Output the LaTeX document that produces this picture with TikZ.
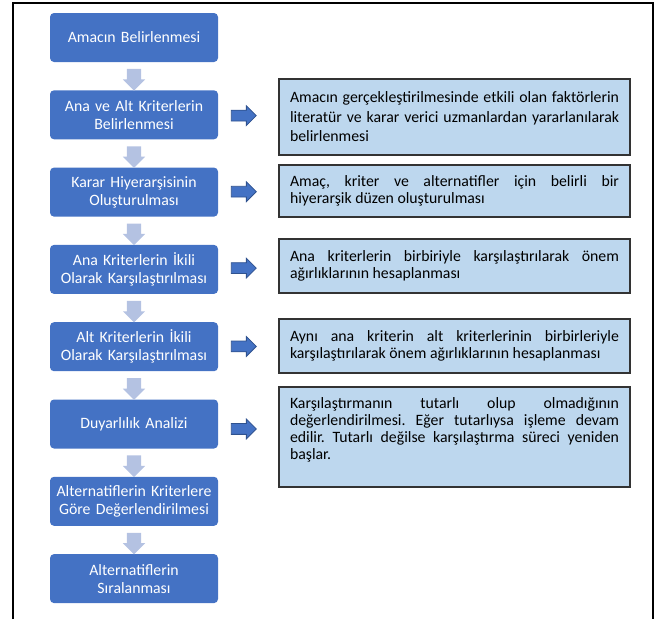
\documentclass[tikz,border=0pt]{standalone}
\usepackage{fontspec}
\setmainfont{Carlito}
\usetikzlibrary{calc, shapes.arrows}
\definecolor{stepblue}{HTML}{4472C4}
\definecolor{arrowedge}{HTML}{2F528F}
\definecolor{arrowpale}{RGB}{180,194,226}
\definecolor{notefill}{HTML}{BDD7EE}
\hyphenpenalty=10000
\exhyphenpenalty=10000
\tolerance=9999
\frenchspacing
\tikzset{
    stepbox/.style={rectangle, rounded corners=4pt, fill=stepblue, text=white,
        minimum width=168pt, minimum height=49pt, text width=164pt, inner sep=2pt,
        align=center, font=\fontsize{15.8}{18}\selectfont},
    notebox/.style={rectangle, fill=notefill, draw=black!80, line width=1.2pt,
        minimum width=351pt, inner xsep=11pt, inner ysep=4pt, text width=329pt,
        align=justify, font=\fontsize{15.8}{17}\selectfont},
    downarr/.style={single arrow, shape border rotate=270, fill=arrowpale,
        minimum height=21pt, minimum width=22pt, single arrow head extend=4pt, inner sep=7pt},
    rightarr/.style={single arrow, fill=stepblue, draw=arrowedge, line width=0.8pt,
        minimum height=25pt, minimum width=19pt, single arrow head extend=4.5pt, inner sep=5pt}
}
\begin{document}
\begin{tikzpicture}[x=1pt, y=-1pt]
            \useasboundingbox (0, 0) rectangle (660, 619);
            \draw[line width=2pt] (13, 619) -- (13, 3) -- (653, 3) -- (653, 619);

            % steps
            \node[stepbox] (s1) at (134, 37.5) {Amacın Belirlenmesi};
            \node[stepbox] (s2) at (134, 114.8) {Ana ve Alt Kriterlerin\\Belirlenmesi};
            \node[stepbox] (s3) at (134, 192.1) {Karar Hiyerarşisinin\\Oluşturulması};
            \node[stepbox] (s4) at (134, 269.4) {Ana Kriterlerin İkili\\Olarak Karşılaştırılması};
            \node[stepbox] (s5) at (134, 346.7) {Alt Kriterlerin İkili\\Olarak Karşılaştırılması};
            \node[stepbox] (s6) at (134, 424) {Duyarlılık Analizi};
            \node[stepbox] (s7) at (134, 501.3) {Alternatiflerin Kriterlere\\Göre Değerlendirilmesi};
            \node[stepbox] (s8) at (134, 578.6) {Alternatiflerin\\Sıralanması};

            % notes
            \node[notebox, minimum height=76pt, font=\fontsize{15.8}{19.5}\selectfont] (n2) at (454.5, 117) {Amacın gerçekleştirilmesinde etkili olan faktörlerin literatür ve karar verici uzmanlardan yararlanılarak belirlenmesi};
            \node[notebox, minimum height=52pt] (n3) at (454.5, 191) {Amaç, kriter ve alternatifler için belirli bir\linebreak hiyerarşik düzen oluşturulması};
            \node[notebox, minimum height=54pt] (n4) at (454.5, 266) {Ana kriterlerin birbiriyle karşılaştırılarak önem ağırlıklarının hesaplanması};
            \node[notebox, minimum height=54pt] (n5) at (454.5, 346) {Aynı ana kriterin alt kriterlerinin birbirleriyle karşılaştırılarak önem ağırlıklarının hesaplanması};
            \node[notebox, minimum height=100pt] (n6) at (454.5, 437) {Karşılaştırmanın tutarlı olup olmadığının değerlendirilmesi. Eğer tutarlıysa işleme devam edilir. Tutarlı değilse karşılaştırma süreci yeniden başlar.\par\rule{0pt}{12pt}};

            % arrows between steps
            \node[downarr] (d12) at ($(s1.south)!0.5!(s2.north)$) {};
            \node[downarr] (d23) at ($(s2.south)!0.5!(s3.north)$) {};
            \node[downarr] (d34) at ($(s3.south)!0.5!(s4.north)$) {};
            \node[downarr] (d45) at ($(s4.south)!0.5!(s5.north)$) {};
            \node[downarr] (d56) at ($(s5.south)!0.5!(s6.north)$) {};
            \node[downarr] (d67) at ($(s6.south)!0.5!(s7.north)$) {};
            \node[downarr] (d78) at ($(s7.south)!0.5!(s8.north)$) {};

            % arrows to notes
            \node[rightarr] (a2) at ($(s2.east)!0.38!(n2.west)$) {};
            \node[rightarr] (a3) at ($(s3.east)!0.38!(n3.west)$) {};
            \node[rightarr] (a4) at ($(s4.east)!0.38!(n4.west)$) {};
            \node[rightarr] (a5) at ($(s5.east)!0.38!(n5.west)$) {};
            \node[rightarr] (a6) at ($(s6.east)!0.38!(n6.west)$) {};
        \end{tikzpicture}
\end{document}
